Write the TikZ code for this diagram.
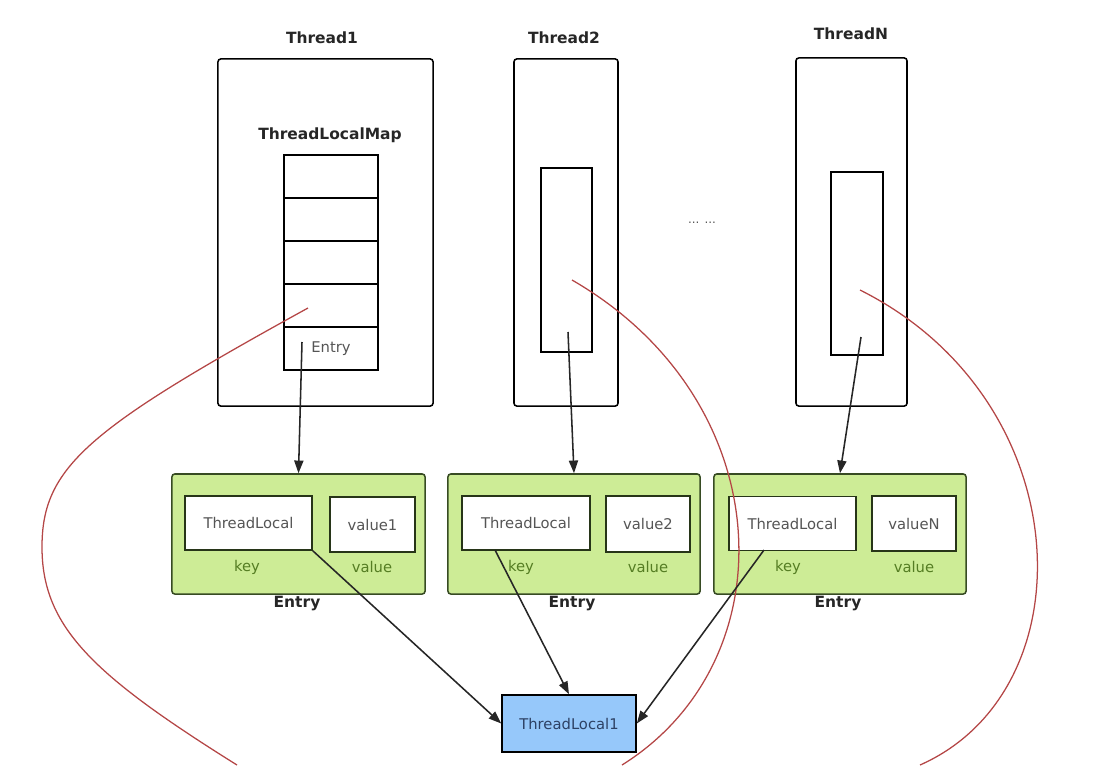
\documentclass[tikz,border=0pt]{standalone}
\usepackage{fontspec}
\setmainfont{DejaVu Sans}
\usetikzlibrary{arrows.meta}
\definecolor{entrygreen}{RGB}{205,236,150}
\definecolor{entryline}{RGB}{55,75,35}
\definecolor{keygreen}{RGB}{85,125,35}
\definecolor{objblue}{RGB}{150,200,250}
\definecolor{objtext}{RGB}{45,65,100}
\definecolor{refred}{RGB}{180,70,70}
\definecolor{txtgray}{RGB}{85,85,85}
\tikzset{
  thread/.style={draw, line width=1.1pt, rounded corners=2pt, inner sep=0pt, minimum height=8.675cm},
  slot/.style={draw, line width=1.1pt, inner sep=0pt, minimum width=2.35cm, minimum height=1.075cm},
  entry/.style={draw=entryline, fill=entrygreen, line width=1.1pt, rounded corners=2pt, inner sep=0pt, minimum width=6.3cm, minimum height=3cm},
  cell/.style={draw=entryline!70!black, fill=white, line width=1.1pt, inner sep=0pt, minimum height=1.35cm, text=txtgray, font=\fontsize{10.5}{12}\selectfont},
  title/.style={font=\bfseries\fontsize{11}{13}\selectfont, text=black!85},
  small/.style={font=\fontsize{10.5}{12}\selectfont},
  ptr/.style={-{Triangle[length=9pt,width=6.5pt]}, line width=1.1pt, black!85},
  ref/.style={draw=refred, line width=0.9pt}
}
\begin{document}
\begin{tikzpicture}[x=0.025cm, y=-0.025cm]
    \useasboundingbox (0,0) rectangle (1101,765);
    % the threads
    \node[thread, minimum width=5.375cm] (t1) at (325.5,232.5) {};
    \node[thread, minimum width=2.6cm] (t2) at (566,232.5) {};
    \node[thread, minimum width=2.775cm, minimum height=8.7cm] (tn) at (851.5,232) {};
    \node[title] (t1lbl) at (322,38) {Thread1};
    \node[title] (t2lbl) at (564,38) {Thread2};
    \node[title] (tnlbl) at (851,34) {ThreadN};
    \node[text=txtgray, font=\fontsize{8.5}{10}\selectfont] (dots) at (702,223) {... ...};
    % the map of thread1, and the maps of the other threads
    \node[title] (maplbl) at (330,135) {ThreadLocalMap};
    \foreach \i/\y in {1/176.5, 2/219.5, 3/262.5, 4/305.5}
        \node[slot] (s\i) at (331,\y) {};
    \node[slot, small, text=txtgray] (s5) at (331,348.5) {Entry};
    \node[slot, minimum width=1.275cm, minimum height=4.6cm] (m2) at (566.5,260) {};
    \node[slot, minimum width=1.3cm, minimum height=4.575cm] (mn) at (857,263.5) {};
    % the entries
    \node[entry, minimum width=6.325cm] (e1) at (298.5,534) {};
    \node[entry] (e2) at (574,534) {};
    \node[entry] (e3) at (840,534) {};
    \node[cell, minimum width=3.175cm] (tl1) at (248.5,523) {ThreadLocal};
    \node[cell, minimum width=2.125cm, minimum height=1.375cm] (v1) at (372.5,524.5) {value1};
    \node[cell, minimum width=3.2cm] (tl2) at (526,523) {ThreadLocal};
    \node[cell, minimum width=2.1cm, minimum height=1.4cm] (v2) at (648,524) {value2};
    \node[cell, minimum width=3.175cm] (tl3) at (792.5,523.5) {ThreadLocal};
    \node[cell, minimum width=2.1cm, minimum height=1.375cm] (v3) at (914,523.5) {valueN};
    \foreach \n/\kx/\vx/\ex in {1/247/372/297, 2/521/648/572, 3/788/914/838} {
        \node[small, text=keygreen] (k\n) at (\kx,567) {key};
        \node[small, text=keygreen] (val\n) at (\vx,567) {value};
        \node[title] (elbl\n) at (\ex,604) {Entry};
    }
    % the shared threadlocal object
    \node[draw, line width=1.1pt, fill=objblue, inner sep=0pt, minimum width=3.35cm, minimum height=1.425cm,
          small, text=objtext] (obj) at (569,723.5) {ThreadLocal1};
    % start points of the pointers
    \coordinate (p1) at (302,342);
    \coordinate (p2) at (568,332);
    \coordinate (pn) at (861,337);
    \coordinate (k2s) at (495,550);
    \coordinate (k3s) at (764,550);
    % the references
    \draw[ref] (308,308) .. controls (88,429) and (42,467) .. (42,547)
                         .. controls (42,627) and (93,675) .. (237,765);
    \draw[ref] (572,280) .. controls (780,400) and (790,660) .. (622,765);
    \draw[ref] (860,290) .. controls (1080,400) and (1090,690) .. (920,765);
    % draw the arrows
    \draw[ptr] (p1) -- (e1.north);
    \draw[ptr] (p2) -- (e2.north);
    \draw[ptr] (pn) -- (e3.north);
    \draw[ptr] (tl1.south east) -- (obj.west);
    \draw[ptr] (k2s) -- (obj.north);
    \draw[ptr] (k3s) -- (obj.east);
\end{tikzpicture}
\end{document}
